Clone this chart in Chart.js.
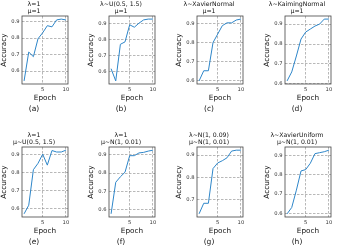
<!DOCTYPE html>
<html>
<head>
<meta charset="utf-8">
<script src="https://cdn.jsdelivr.net/npm/chart.js@4"></script>
<style>
  html, body { margin: 0; padding: 0; background: #fff; overflow: hidden; width: 338px; height: 248px; }
  canvas { position: absolute; }
</style>
</head>
<body>
<script>
// accuracy per epoch
const epochs = [1, 2, 3, 4, 5, 6, 7, 8, 9, 10];
const accA = [0.54, 0.715, 0.687, 0.796, 0.832, 0.875, 0.868, 0.91, 0.915, 0.91];
const accB = [0.62, 0.545, 0.77, 0.785, 0.89, 0.875, 0.9, 0.92, 0.925, 0.925];
const accC = [0.596, 0.65, 0.65, 0.8, 0.845, 0.89, 0.905, 0.905, 0.92, 0.925];
const accD = [0.615, 0.66, 0.74, 0.825, 0.86, 0.875, 0.89, 0.9, 0.925, 0.925];
const accE = [0.573, 0.62, 0.815, 0.85, 0.9, 0.84, 0.92, 0.912, 0.912, 0.922];
const accF = [0.578, 0.75, 0.78, 0.805, 0.895, 0.895, 0.91, 0.913, 0.92, 0.925];
const accG = [0.638, 0.685, 0.685, 0.84, 0.865, 0.875, 0.888, 0.918, 0.922, 0.922];
const accH = [0.597, 0.63, 0.72, 0.82, 0.827, 0.86, 0.91, 0.915, 0.92, 0.928];

const titles = [
  ['λ=1', 'μ=1'],
  ['λ~U(0.5, 1.5)', 'μ=1'],
  ['λ~XavierNormal', 'μ=1'],
  ['λ~KaimingNormal', 'μ=1'],
  ['λ=1', 'μ~U(0.5, 1.5)'],
  ['λ=1', 'μ~N(1, 0.01)'],
  ['λ~N(1, 0.09)', 'μ~N(1, 0.01)'],
  ['λ~XavierUniform', 'μ~N(1, 0.01)'],
];
const captions = ['(a)', '(b)', '(c)', '(d)', '(e)', '(f)', '(g)', '(h)'];
const yTicks = [0.6, 0.7, 0.8, 0.9];
const xTicks = [5, 10];

const series = [accA, accB, accC, accD, accE, accF, accG, accH];

Chart.defaults.font.family = 'DejaVu Sans';

// plot box layout
const colLeft = [22, 109, 197, 285];
const rowTop = [16, 147];
const rowH = [68, 70];
const boxW = 46;
const yAxisW = 22;
const xAxisH = 20;

// matplotlib-like full frame round the plot
const framePlugin = {
  id: 'frame',
  afterDatasetsDraw(chart) {
    const { ctx, chartArea: a } = chart;
    ctx.save();
    ctx.strokeStyle = '#444';
    ctx.lineWidth = 0.8;
    ctx.strokeRect(a.left, a.top, a.right - a.left, a.bottom - a.top);
    ctx.restore();
  },
};

series.forEach((data, i) => {
  const row = Math.floor(i / 4);
  const col = i % 4;
  const h = rowH[row];

  const canvas = document.createElement('canvas');
  const cw = yAxisW * 2 + boxW;
  const ch = 16 + h + xAxisH + 10;
  canvas.width = cw;
  canvas.height = ch;
  canvas.style.width = cw + 'px';
  canvas.style.height = ch + 'px';
  canvas.style.left = (colLeft[col] - yAxisW) + 'px';
  canvas.style.top = (rowTop[row] - 16) + 'px';
  document.body.appendChild(canvas);

  // autoscale like matplotlib: 5% margin
  const lo = Math.min(...data);
  const hi = Math.max(...data);
  const pad = (hi - lo) * 0.05;

  new Chart(canvas, {
    type: 'line',
    data: {
      labels: epochs,
      datasets: [
        {
          data: epochs.map((e, k) => ({ x: e, y: data[k] })),
          borderColor: '#2e86c9',
          borderWidth: 1,
          pointRadius: 0,
          tension: 0,
          fill: false,
        },
      ],
    },
    options: {
      responsive: false,
      animation: false,
      events: [],
      layout: { padding: { left: 0, right: yAxisW, top: 0, bottom: 0 } },
      plugins: {
        legend: { display: false },
        tooltip: { enabled: false },
        title: {
          display: true,
          text: titles[i],
          color: '#111',
          font: { size: 6.2, weight: 'normal', lineHeight: '7.5px' },
          padding: { top: 0.25, bottom: 0.75 },
        },
        subtitle: {
          display: true,
          position: 'bottom',
          text: captions[i],
          color: '#111',
          font: { size: 7.5, lineHeight: '8px' },
          padding: { top: 1.5, bottom: 0.5 },
        },
      },
      scales: {
        x: {
          type: 'linear',
          min: 0.55,
          max: 10.45,
          afterBuildTicks: (s) => { s.ticks = xTicks.map((v) => ({ value: v })); },
          afterFit: (s) => { s.height = xAxisH; },
          grid: { color: '#9a9a9a', lineWidth: 0.7, drawTicks: false },
          border: { display: false, dash: [2.5, 1.5] },
          ticks: {
            color: '#333',
            font: { size: 5.2 },
            padding: 2.5,
            maxRotation: 0,
            autoSkip: false,
            callback: (v) => String(v),
          },
          title: {
            display: true,
            text: 'Epoch',
            color: '#111',
            font: { size: 7.3, lineHeight: 1.2 },
            padding: { top: 0, bottom: 1.5 },
          },
        },
        y: {
          min: lo - pad,
          max: hi + pad,
          afterBuildTicks: (s) => {
            s.ticks = yTicks.filter((v) => v >= s.min && v <= s.max).map((v) => ({ value: v }));
          },
          afterFit: (s) => { s.width = yAxisW; },
          grid: { color: '#9a9a9a', lineWidth: 0.7, drawTicks: false },
          border: { display: false, dash: [2.5, 1.5] },
          ticks: {
            color: '#333',
            font: { size: 5.2 },
            padding: 2.5,
            callback: (v) => v.toFixed(1),
          },
          title: {
            display: true,
            text: 'Accuracy',
            color: '#111',
            font: { size: 7.3, lineHeight: 1 },
            padding: { top: 0.9, bottom: 0 },
          },
        },
      },
    },
    plugins: [framePlugin],
  });
});
</script>
</body>
</html>
